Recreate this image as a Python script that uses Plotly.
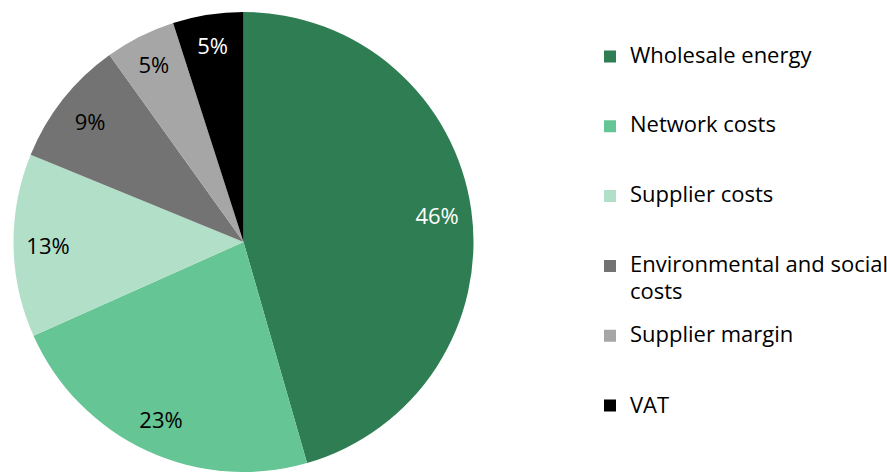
import plotly.graph_objects as go

# ---- data ----
categories = ["Wholesale energy", "Network costs", "Supplier costs",
              "Environmental and social<br>costs", "Supplier margin", "VAT"]
values = [46, 23, 13, 9, 5, 5]
colors = ["#2F7D53", "#66C594", "#B2DFC8", "#737373", "#A6A6A6", "#000000"]
label_colors = ["white", "black", "black", "black", "black", "white"]

FONT = "Open Sans"
TEXT_SIZE = 22
LEGEND_BASE = 10.28      # base legend font -> line pitch used for item spacing
LINES_PER_ITEM = 5


def legend_label(name, last):
    parts = name.split("<br>")
    lines = []
    for i, p in enumerate(parts):
        if i > 0:
            lines.append(" ")
        lines.append("<sub><span style='font-size:%dpx'>%s</span></sub>" % (TEXT_SIZE, p))
    if not last:
        while len(lines) < LINES_PER_ITEM:
            lines.append(" ")
    return "<br>".join(lines)


legend_labels = [legend_label(c, i == len(categories) - 1) for i, c in enumerate(categories)]

domain = dict(x=[13.5 / 887, 473.5 / 887], y=[0, 460 / 472])

fig = go.Figure()
fig.add_trace(go.Pie(
    labels=legend_labels,
    values=values,
    marker=dict(colors=colors, line=dict(color="white", width=0)),
    sort=False,
    direction="clockwise",
    rotation=0,
    textinfo="none",
    hoverinfo="skip",
    domain=domain,
    showlegend=True,
))
# transparent ring used only to place the percentage labels near the rim
fig.add_trace(go.Pie(
    labels=legend_labels,
    values=values,
    hole=0.7,
    marker=dict(colors=["rgba(0,0,0,0)"] * len(values), line=dict(width=0)),
    sort=False,
    direction="clockwise",
    rotation=0,
    texttemplate="%{percent:.0%}",
    textposition="inside",
    insidetextorientation="horizontal",
    textfont=dict(family=FONT, size=TEXT_SIZE, color=label_colors),
    hoverinfo="skip",
    domain=domain,
    showlegend=False,
))

fig.update_layout(
    width=887, height=472,
    margin=dict(l=0, r=0, t=0, b=0, autoexpand=False),
    paper_bgcolor="white",
    plot_bgcolor="white",
    font=dict(family=FONT, color="black"),
    legend=dict(
        x=590 / 887, xanchor="left",
        y=1 - 43.3 / 472, yanchor="top",
        valign="top",
        font=dict(family=FONT, size=LEGEND_BASE, color="black"),
        bgcolor="rgba(0,0,0,0)",
        traceorder="normal",
    ),
)

fig.write_html("out.html", config={"displayModeBar": False},
               post_script="document.body.style.margin='0px';")
